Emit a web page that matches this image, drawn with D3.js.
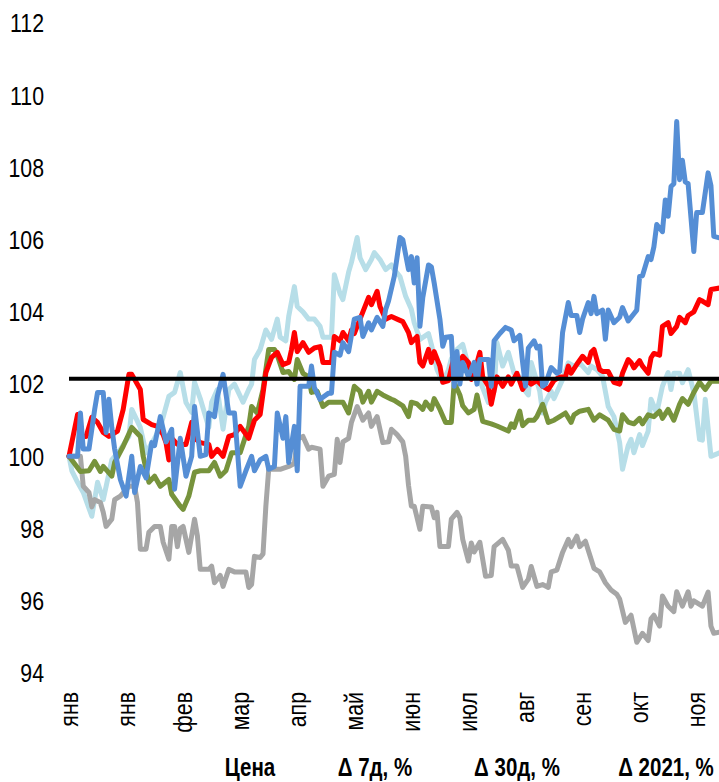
<!DOCTYPE html>
<html>
<head>
<meta charset="utf-8">
<script src="https://cdn.jsdelivr.net/npm/d3@7"></script>
<style>
  html, body { margin: 0; padding: 0; background: #fff; }
  svg { display: block; }
  text { font-family: "Liberation Sans", Arial, sans-serif; fill: #000; }
</style>
</head>
<body>
<svg id="chart" width="719" height="782"></svg>
<script>
// ---- data ([trading day index, value]) ----
const monthLabels = ['янв','янв','фев','мар','апр','май','июн','июл','авг','сен','окт','ноя'];
const monthStep = 20;
const lastDay = 228;
const yTicks = [94, 96, 98, 100, 102, 104, 106, 108, 110, 112];
const headers = ['Цена', 'Δ 7д, %', 'Δ 30д, %', 'Δ 2021, %'];
const benchmarkValue = 102.15;

const seriesGray = [[0,100],[3,100],[4,100],[5,99.17],[7,99],[8,98.6],[9,98.8],[11,98.72],[12,98.45],[13,98.06],[15,98.26],[16,98.8],[18,98.9],[21,99.17],[23,99.17],[24,98.72],[25,97.43],[27,97.43],[28,97.9],[30,98.06],[32,98.06],[33,97.62],[35,97.15],[36,98.06],[37,98.06],[38,97.5],[39,98],[40,98.06],[42,97.34],[44,98.26],[45,97.8],[46,96.87],[49,96.87],[50,96.96],[51,96.5],[53,96.7],[54,96.4],[56,96.87],[58,96.8],[60,96.8],[62,96.8],[63,96.37],[64,96.45],[65,97.23],[67,97.2],[68,97.3],[69,98.62],[70,99.64],[72,99.64],[74,99.64],[77,99.72],[79,99.8],[80,100.47],[82,100.55],[84,100.2],[85,100.25],[88,100.2],[89,99.17],[91,99.45],[93,99.5],[94,100.47],[95,99.83],[96,100.4],[98,100.5],[99,100.94],[101,101.38],[103,101],[105,101.2],[106,100.83],[108,101.1],[110,100.38],[112,100.4],[113,100.75],[115,100.6],[117,100.4],[118,100],[119,99.2],[120,98.62],[121,98.62],[123,97.98],[124,98.62],[127,98.6],[128,98.3],[129,98.45],[130,97.5],[133,97.5],[134,98.26],[136,98.45],[137,98.3],[138,97.7],[140,97.1],[141,97.6],[142,97.35],[144,97.62],[146,96.68],[148,96.7],[149,97.5],[152,97.7],[154,97.4],[155,96.96],[157,96.96],[159,96.37],[161,96.6],[162,96.95],[164,96.4],[166,96.45],[168,96.37],[169,96.8],[171,96.85],[173,97.34],[175,97.7],[176,97.5],[178,97.79],[179,97.5],[181,97.65],[183,97.15],[184,96.9],[186,96.8],[188,96.5],[190,96.3],[192,96.18],[193,96.05],[195,95.4],[197,95.6],[199,94.85],[201,95.1],[203,94.9],[204,95.5],[205,95.6],[207,95.3],[208,96.13],[210,95.85],[212,95.7],[213,96.25],[215,95.85],[217,96.25],[218,95.85],[219,96],[222,95.85],[224,96.24],[225,95.3],[226,95.1],[228,95.13]];

const seriesLightBlue = [[0,100],[1,99.6],[3,99.28],[5,99],[8,98.34],[10,99.28],[12,98.8],[15,99.9],[18,100.19],[21,100.55],[22,101.3],[25,100.8],[27,100.1],[30,100.5],[32,100.8],[35,101.66],[37,101.77],[39,102.32],[41,101.49],[43,101.22],[44,102.05],[46,101.6],[49,100.8],[50,101.5],[52,101.85],[54,100.75],[56,101.85],[58,102],[61,101.5],[63,101.85],[64,102],[65,102.68],[67,102.96],[69,103.5],[71,103.24],[73,103.8],[74,103.3],[76,103.2],[77,103.87],[79,104.7],[80,104.15],[82,104],[84,103.8],[86,103.8],[88,103.6],[89,103.3],[92,103.3],[93,105.03],[95,104.5],[96,104.34],[98,105.1],[99,105.37],[101,106.06],[102,105.5],[104,105.17],[106,105.45],[107,105.64],[109,105.45],[111,105.17],[113,105.3],[114,105.17],[116,104.98],[118,104.43],[120,104.07],[121,103.7],[123,103.24],[126,103.4],[127,103.1],[129,102.4],[131,102.05],[133,102.4],[134,102.7],[136,102.96],[138,103.1],[140,102.5],[142,102.2],[144,102.1],[147,101.49],[149,101.8],[150,103.15],[152,102.5],[154,102.88],[156,102.3],[158,102.2],[159,101.9],[161,101.7],[162,102.6],[165,101.8],[166,101.2],[167,101.5],[169,101.8],[170,101.6],[173,102.13],[175,102.59],[177,102.5],[179,102.59],[182,102.32],[183,102.5],[185,102.4],[187,102.22],[189,101.38],[191,101.1],[193,100.38],[194,99.64],[196,100.3],[197,100.47],[198,100.1],[200,100.6],[201,100.3],[203,100.7],[204,101.58],[206,101.2],[208,101.94],[210,102.32],[211,101.85],[212,102.3],[214,102.3],[215,102.04],[217,102.4],[219,101.77],[221,100.47],[222,100.45],[223,101.58],[225,100],[228,100.1]];

const seriesGreen = [[0,100],[4,99.58],[7,99.6],[9,99.86],[11,99.58],[12,99.72],[15,99.45],[16,99.83],[19,100.28],[22,100.8],[25,100.55],[26,100],[28,99.28],[30,99.45],[32,99.17],[35,99.36],[36,98.95],[39,98.62],[40,98.53],[42,98.9],[44,99.56],[46,99.6],[49,99.6],[51,99.83],[53,99.45],[55,99.6],[57,100.1],[60,100.1],[63,100.83],[64,101.38],[66,101.2],[68,101.85],[70,102.96],[72,102.96],[73,102.8],[75,102.32],[77,102.35],[79,102.13],[80,102.68],[82,102.3],[84,102.2],[85,101.77],[87,101.8],[89,101.38],[91,101.5],[94,101.5],[96,101.5],[98,101.2],[100,101.94],[102,101.8],[103,101.5],[105,101.8],[106,101.5],[108,101.8],[110,101.7],[113,101.58],[114,101.55],[117,101.4],[119,101.1],[120,101.5],[122,101.45],[124,101.3],[125,101.5],[127,101.3],[128,101.6],[130,101.3],[132,100.94],[134,100.94],[135,102.05],[137,101.7],[138,101.4],[140,101.2],[142,101.3],[143,101.7],[145,100.97],[148,100.9],[150,100.84],[154,100.7],[155,100.9],[156,100.8],[158,101.25],[159,100.85],[161,101],[163,101],[164,101.1],[166,101.44],[168,100.94],[170,101],[172,101.1],[174,101.2],[176,100.94],[177,101.15],[179,101.25],[182,101.3],[184,101],[186,101.15],[187,101.1],[189,101],[191,100.75],[193,100.7],[194,101.15],[196,100.95],[198,100.9],[200,101.05],[201,100.9],[203,101.15],[205,101.1],[207,101.25],[208,101.05],[210,101.3],[212,101],[214,101.44],[215,101.6],[217,101.44],[219,101.77],[221,102.05],[223,101.85],[225,102.08],[228,102.08]];

const seriesRed = [[0,100],[3,101.16],[4,100.55],[6,100.55],[8,101.08],[10,100.94],[12,100.66],[14,100.55],[17,100.7],[19,101.3],[21,102.27],[22,102.27],[25,101.85],[26,101.02],[29,100.88],[31,100.83],[33,100.6],[34,100.38],[35,99.9],[36,100.5],[38,100.33],[41,100.33],[43,100.94],[44,100.5],[46,100.38],[49,100.33],[50,100],[52,100.19],[54,100],[56,100.55],[58,100.6],[60,100.83],[63,100.5],[65,101],[67,101.16],[69,102.32],[71,102.74],[73,102.88],[75,102.54],[77,102.6],[78,102.96],[79,103.43],[80,102.9],[82,103.15],[84,102.88],[86,103],[88,103.04],[89,102.6],[92,102.6],[93,103.32],[95,103.2],[96,103.43],[98,103.2],[99,103.5],[100,103.4],[102,103.8],[105,104.4],[106,104.2],[108,104.57],[109,104.15],[111,103.8],[113,103.87],[115,103.8],[117,103.73],[119,103.43],[120,103.15],[122,103.32],[123,102.6],[124,102.5],[126,102.96],[127,102.6],[128,102.9],[130,102.5],[131,102.05],[133,102.1],[135,102.77],[136,102.4],[138,102.77],[140,102.6],[141,102.13],[142,102.3],[144,102.88],[145,102.2],[147,101.94],[148,101.44],[150,102.2],[152,101.94],[154,102.2],[155,102],[157,102.3],[159,101.85],[161,102.1],[162,102],[164,102.1],[166,101.94],[168,101.85],[170,102.1],[172,102.2],[174,102.2],[175,102.5],[176,102.3],[178,102.55],[180,102.77],[182,102.6],[183,102.88],[184,102.96],[186,102.4],[187,102.35],[189,102.35],[191,102.05],[193,102],[194,102.3],[196,102.68],[197,102.6],[198,102.45],[200,102.65],[201,102.5],[203,102.3],[204,102.73],[205,102.85],[207,102.8],[208,103.6],[210,103.7],[211,103.4],[213,103.6],[214,103.85],[216,103.7],[217,103.9],[219,104],[221,104.34],[222,104.3],[224,104.2],[225,104.62],[228,104.66]];

const seriesBlue = [[0,100],[3,100],[4,101.2],[5,100.2],[7,100.2],[9,101.3],[10,101.77],[12,101.77],[13,100.66],[14,101.58],[15,100.8],[16,100.2],[18,99.36],[20,98.9],[22,100],[23,99],[25,99.72],[27,99.4],[29,100.38],[30,100.3],[32,101.1],[34,100.4],[36,100.75],[37,99.09],[39,100.5],[41,99.45],[43,100],[44,101.38],[46,100],[48,100.05],[49,101.2],[51,101.1],[52,101.66],[54,102.27],[56,101.2],[58,101.2],[59,100.2],[60,99.17],[62,99.6],[64,100],[65,99.6],[67,99.9],[69,100],[70,99.64],[72,99.72],[73,101.2],[75,100.5],[76,101.1],[77,99.83],[79,100.83],[80,99.6],[81,101.94],[84,101.94],[85,102.5],[86,101.9],[88,101.58],[91,101.75],[92,101.75],[93,102.88],[95,102.8],[96,103.15],[98,102.9],[100,103.8],[102,103.85],[103,103.32],[105,103.7],[106,103.5],[108,103.85],[110,103.6],[111,104.07],[112,104.3],[114,104.98],[116,106.06],[117,106],[119,105.17],[120,105.53],[121,104.8],[122,105.5],[123,103.6],[124,104.4],[126,105.3],[127,105.25],[128,104.8],[130,103.8],[131,103.05],[132,103.3],[134,103.32],[135,101.94],[136,102.9],[137,102],[138,102.6],[140,102.2],[142,102.6],[143,102],[144,102.68],[147,102.68],[148,101.94],[149,103.2],[151,103.4],[153,103.57],[155,103.5],[156,103.2],[158,103.35],[159,102.6],[160,101.94],[161,103],[163,103.2],[164,103],[165,103.05],[166,101.94],[167,102],[169,102.46],[171,102.3],[172,102.35],[173,103.43],[175,104.26],[176,103.9],[178,103.9],[179,103.43],[180,103.8],[182,104.26],[183,103.95],[184,104.43],[185,103.95],[187,104.05],[188,103.24],[189,104.05],[191,103.7],[193,103.85],[194,104.12],[196,103.75],[198,103.95],[199,104.05],[200,104.98],[201,105],[203,105.53],[204,105.45],[205,105.8],[206,106.42],[208,106.22],[209,107.1],[210,106.65],[211,107.47],[212,107.55],[213,109.27],[214,107.66],[215,108.2],[216,107.6],[217,107.55],[219,105.67],[220,106.75],[222,106.75],[224,107.85],[225,107.5],[226,106.09],[228,106.05]];

// ---- drawing ----
const svg = d3.select('#chart');
const NARROW = 0.82;

const x = d3.scaleLinear().domain([0, lastDay]).range([69, 719.5]);
const y = d3.scaleLinear().domain([94, 112]).range([673, 23]);

// y tick labels
svg.append('g').selectAll('text')
  .data(yTicks).join('text')
  .attr('transform', d => `translate(44,${y(d)}) scale(${NARROW},1)`)
  .attr('text-anchor', 'end')
  .attr('dy', '0.36em')
  .style('font-size', '26px')
  .text(d => d);

// x (month) labels, rotated
const monthTicks = monthLabels.map((m, i) => ({ m, day: i * monthStep }));
svg.append('g').selectAll('text')
  .data(monthTicks).join('text')
  .attr('transform', d => `translate(${x(d.day)},692) rotate(-90) scale(${NARROW},1)`)
  .attr('text-anchor', 'end')
  .attr('dy', '0.33em')
  .style('font-size', '26px')
  .text(d => d.m);

const line = d3.line().x(d => x(d[0])).y(d => y(d[1]));

const series = [
  { data: seriesLightBlue, color: '#b7dee8' },
  { data: seriesGray, color: '#a6a6a6' },
  { data: seriesGreen, color: '#77933c' },
  { data: seriesRed, color: '#ff0000' },
  { data: seriesBlue, color: '#558ed5' }
];

svg.append('g').selectAll('path')
  .data(series).join('path')
  .attr('d', d => line(d.data))
  .attr('fill', 'none')
  .attr('stroke', d => d.color)
  .attr('stroke-width', 5)
  .attr('stroke-linejoin', 'round')
  .attr('stroke-linecap', 'round');

// benchmark line
svg.append('path')
  .attr('d', line([[0, benchmarkValue], [lastDay, benchmarkValue]]))
  .attr('fill', 'none')
  .attr('stroke', '#000')
  .attr('stroke-width', 4)
  .attr('transform', 'translate(0,0)');

// bottom headers
const headerX = [250, 375, 517, 666];
svg.append('g').selectAll('text')
  .data(headers).join('text')
  .attr('transform', (d, i) => `translate(${headerX[i]},776) scale(${NARROW},1)`)
  .attr('text-anchor', 'middle')
  .style('font-size', '25px')
  .style('font-weight', 'bold')
  .text(d => d);
</script>
</body>
</html>
